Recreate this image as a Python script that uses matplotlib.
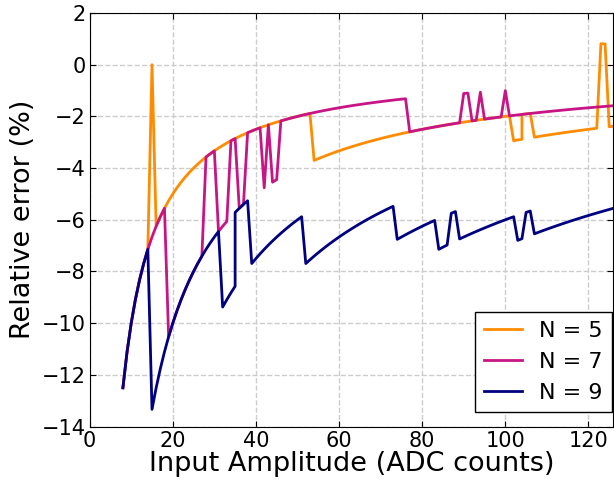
import matplotlib
matplotlib.use("Agg")
import matplotlib.pyplot as plt
import numpy as np

# input amplitudes (ADC counts) for each trace; a repeated value marks a vertical step
amp_n5 = list(range(8, 105)) + list(range(104, 127))
amp_n7 = list(range(8, 127))
amp_n9 = list(range(8, 36)) + list(range(35, 127))

# error of the estimate, in ADC counts, read point by point
err_n5 = ([-1] * 7 + [0] + [-1] * 38 + [-2] * 48 + [-3] * 3 + [-2] * 3
          + [-3] * 16 + [1] * 2 + [-3] * 2)
err_n7 = ([-1] * 11 + [-2] * 9 + [-1] * 3 + [-2] * 3 + [-1] * 2 + [-2] * 2
          + [-1] * 4 + [-2] + [-1] + [-2] * 2 + [-1] * 31 + [-2] * 13
          + [-1] * 2 + [-2] * 2 + [-1] + [-2] * 5 + [-1] + [-2] * 26)
err_n9 = ([-1] * 7 + [-2] * 17 + [-3] * 4 + [-2] * 4 + [-3] * 13 + [-4] * 22
          + [-5] * 10 + [-6] * 3 + [-5] * 2 + [-6] * 14 + [-7] * 2 + [-6] * 2
          + [-7] * 20)

series = [
    ("N = 5", amp_n5, err_n5, "#ff8c00"),
    ("N = 7", amp_n7, err_n7, "#c71585"),
    ("N = 9", amp_n9, err_n9, "#000080"),
]

plt.rcParams.update({
    "font.family": "DejaVu Sans",
    "xtick.direction": "in",
    "ytick.direction": "in",
    "xtick.top": True,
    "ytick.right": True,
    "xtick.major.size": 4,
    "ytick.major.size": 4,
})

fig = plt.figure(figsize=(6.14, 4.82), dpi=100)
ax = fig.add_axes([0.146, 0.115, 0.853, 0.858])

for label, amp, err, color in series:
    amp = np.array(amp, dtype=float)
    rel = 100.0 * np.array(err) / amp
    ax.plot(amp, rel, color=color, lw=2, label=label)

ax.set_xlim(0, 126)
ax.set_ylim(-14, 2)
ax.set_xticks(range(0, 121, 20))
ax.set_yticks(range(-14, 3, 2))
ax.tick_params(labelsize=15, pad=3)
ax.grid(True, color="0.8", linestyle="--", lw=1)
ax.set_axisbelow(True)

ax.set_xlabel("Input Amplitude (ADC counts)", fontsize=19.5, labelpad=0)
ax.set_ylabel("Relative error (%)", fontsize=19.5, labelpad=4)

leg = ax.legend(loc="lower right", bbox_to_anchor=(0.997, 0.035),
                borderaxespad=0, fontsize=16, handlelength=1.7,
                fancybox=False, framealpha=1)
leg.get_frame().set_edgecolor("black")

fig.savefig("out.png", dpi=100)
